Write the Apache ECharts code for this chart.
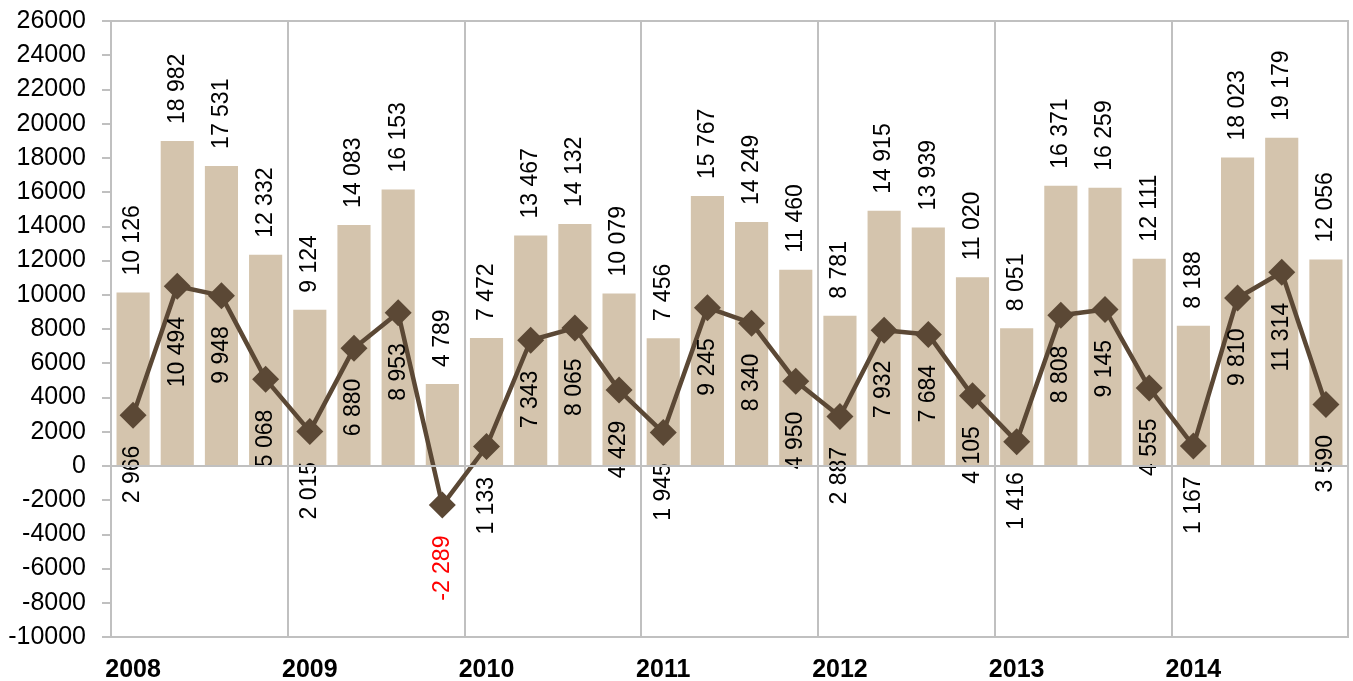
<!DOCTYPE html>
<html>
<head>
<meta charset="utf-8">
<script src="https://cdn.jsdelivr.net/npm/echarts@6/dist/echarts.min.js"></script>
<style>html,body{margin:0;padding:0;background:#fff}#c{width:1353px;height:681px}</style>
</head>
<body>
<div id="c"></div>
<script>
const years = ['2008','2009','2010','2011','2012','2013','2014'];
const quarters = ['Q1','Q2','Q3','Q4'];
const barValues = [10126, 18982, 17531, 12332, 9124, 14083, 16153, 4789, 7472, 13467, 14132, 10079, 7456, 15767, 14249, 11460, 8781, 14915, 13939, 11020, 8051, 16371, 16259, 12111, 8188, 18023, 19179, 12056];
const lineValues = [2966, 10494, 9948, 5068, 2015, 6880, 8953, -2289, 1133, 7343, 8065, 4429, 1945, 9245, 8340, 4950, 2887, 7932, 7684, 4105, 1416, 8808, 9145, 4555, 1167, 9810, 11314, 3590];
const yTicks = {min: -10000, max: 26000, interval: 2000};

const categories = [];
years.forEach(y => quarters.forEach(q => categories.push(y + ' ' + q)));

function fmt(v) {
  const s = String(Math.abs(v)).replace(/\B(?=(\d{3})+(?!\d))/g, ' ');
  return (v < 0 ? '-' : '') + s;
}

const FONT = 'Liberation Sans, Arial, sans-serif';
const chart = echarts.init(document.getElementById('c'), null, {renderer: 'canvas'});

chart.setOption({
  animation: false,
  backgroundColor: '#ffffff',
  grid: {left: 111, right: 5, top: 21, bottom: 44, outerBoundsMode: 'none', containLabel: false, show: true, borderColor: '#c0c0c0', borderWidth: 2, backgroundColor: 'transparent'},
  xAxis: {
    type: 'category',
    data: categories,
    boundaryGap: true,
    axisLine: {show: false, onZero: false},
    axisTick: {show: false},
    axisLabel: {
      interval: 0,
      formatter: (v, i) => (i % 4 === 0 ? v.split(' ')[0] : ''),
      color: '#000', fontFamily: FONT, fontSize: 25, fontWeight: 'bold', margin: 21
    },
    splitLine: {show: true, interval: (i) => i % 4 === 0 && i > 0, lineStyle: {color: '#c0c0c0', width: 2}}
  },
  yAxis: {
    type: 'value',
    min: yTicks.min, max: yTicks.max, interval: yTicks.interval,
    axisLine: {show: true, lineStyle: {color: '#c0c0c0', width: 2}},
    axisTick: {show: true, length: 9, lineStyle: {color: '#c0c0c0', width: 2}},
    axisLabel: {formatter: v => String(v), color: '#000', fontFamily: FONT, fontSize: 25, margin: 25},
    splitLine: {show: false}
  },
  series: [
    {
      type: 'bar',
      data: barValues,
      barCategoryGap: '25%',
      itemStyle: {color: '#d4c4ad'},
      label: {
        show: true, position: 'top', rotate: 90, align: 'left', verticalAlign: 'middle', distance: 17,
        formatter: p => fmt(p.value), color: '#000', fontFamily: FONT, fontSize: 23
      },
      markLine: {
        silent: true, symbol: 'none', label: {show: false},
        lineStyle: {color: '#c0c0c0', width: 2, type: 'solid'},
        data: [{yAxis: 0}]
      },
      z: 1
    },
    {
      type: 'line',
      data: lineValues.map(v => ({value: v, label: v < 0 ? {color: '#ff0000'} : undefined})),
      symbol: 'diamond', symbolSize: 27,
      lineStyle: {color: '#5b4835', width: 4.5},
      itemStyle: {color: '#5b4835'},
      label: {
        show: true, position: 'bottom', rotate: 90, align: 'right', verticalAlign: 'middle', distance: 17,
        formatter: p => fmt(p.value), color: '#000', fontFamily: FONT, fontSize: 23
      },
      z: 3
    }
  ]
});
</script>
</body>
</html>
